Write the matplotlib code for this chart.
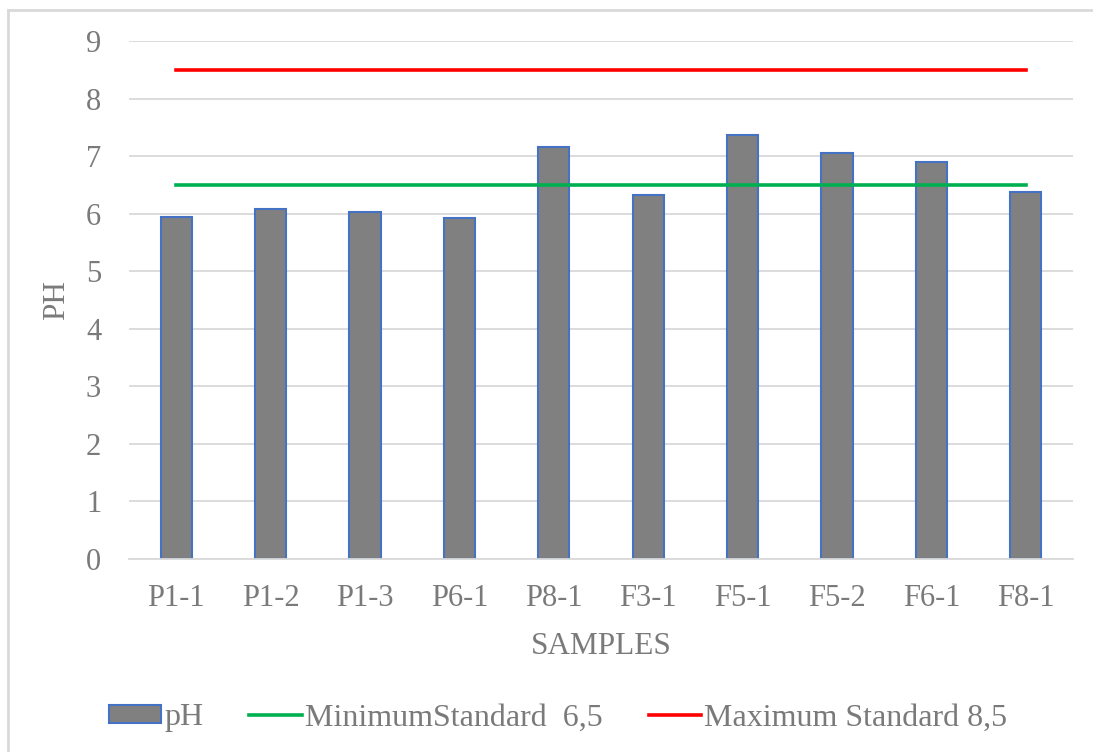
import numpy as np
import matplotlib
matplotlib.use("Agg")
import matplotlib.pyplot as plt
from matplotlib.lines import Line2D

samples = ["P1-1", "P1-2", "P1-3", "P6-1", "P8-1", "F3-1", "F5-1", "F5-2", "F6-1", "F8-1"]
ph_values = [5.94, 6.08, 6.03, 5.92, 7.15, 6.32, 7.36, 7.05, 6.89, 6.38]
min_standard = [6.5] * len(samples)
max_standard = [8.5] * len(samples)

text_color = "#7a7a7a"
plt.rcParams["font.family"] = ["Liberation Serif", "DejaVu Serif"]

W, H = 1093, 752
fig = plt.figure(figsize=(W / 100, H / 100), dpi=100)
ax = fig.add_axes([129 / W, 1 - 559 / H, 944 / W, 518 / H])

# chart area frame: left and top edges
fig.add_artist(Line2D([8 / W, 8 / W], [0, 1 - 10 / H], transform=fig.transFigure,
                      color="#d9d9d9", linewidth=2))
fig.add_artist(Line2D([8 / W, 1], [1 - 10 / H, 1 - 10 / H], transform=fig.transFigure,
                      color="#d9d9d9", linewidth=2))

x = np.arange(len(samples))
bars = ax.bar(x, ph_values, width=0.33, color="#808080", edgecolor="#4472C4",
              linewidth=1.5, label="pH", zorder=2)
min_line, = ax.plot(x, min_standard, color="#00B050", linewidth=2.6,
                    label="MinimumStandard  6,5", zorder=3)
max_line, = ax.plot(x, max_standard, color="#FF0000", linewidth=2.6,
                    label="Maximum Standard 8,5", zorder=3)

ax.set_xlim(-0.5, len(samples) - 0.5)
ax.set_ylim(0, 9)
ax.set_yticks(range(0, 10))
ax.set_xticks(x)
ax.set_xticklabels(samples)
ax.yaxis.grid(True, color="#d9d9d9", linewidth=1.3, zorder=0)
ax.set_axisbelow(True)
for s in ["top", "right", "left"]:
    ax.spines[s].set_visible(False)
ax.spines["bottom"].set_color("#d9d9d9")
ax.spines["bottom"].set_linewidth(1.3)
ax.tick_params(length=0, labelsize=22, colors=text_color)
ax.tick_params(axis="y", pad=20)
ax.tick_params(axis="x", pad=18)

ax.set_xlabel("SAMPLES", fontsize=22.5, color=text_color, labelpad=14)
ax.set_ylabel("PH", fontsize=22.5, color=text_color)
ax.yaxis.set_label_coords(-0.061, 0.5)

fig.legend(handles=[bars, min_line, max_line], loc="center",
           bbox_to_anchor=(558 / W, 1 - 718 / H), ncol=3, frameon=False,
           fontsize=23, labelcolor=text_color, handlelength=1.63,
           handleheight=0.5, handletextpad=0.1, columnspacing=1.44)

fig.savefig("out.png", dpi=100)
